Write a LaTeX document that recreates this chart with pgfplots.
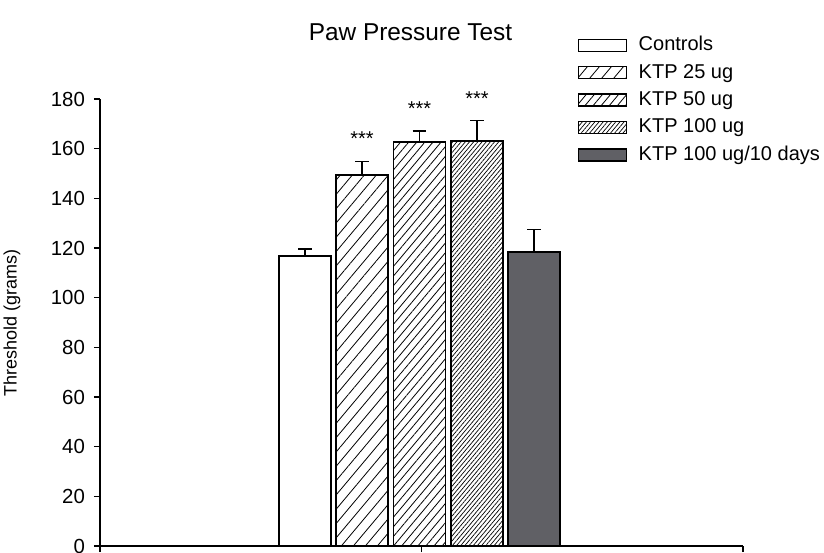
\documentclass[border=0pt]{standalone}
\usepackage{pgfplots}
\pgfplotsset{compat=1.18}
\usepackage{fontspec}
\setmainfont{Liberation Sans}
\usetikzlibrary{patterns.meta}
\definecolor{darkbar}{RGB}{96,96,101}
\begin{document}
\begin{tikzpicture}
\path[use as bounding box] (-50pt,-3pt) rectangle (362pt,273pt);
\begin{axis}[
  scale only axis, width=321.5pt, height=223.5pt,
  at={(0,0)}, anchor=south west,
  xmin=0, xmax=643, ymin=0, ymax=180,
  clip=false,
  axis x line*=bottom, axis y line*=left,
  axis line style={line width=0.6pt},
  xtick={0,321.5,643}, xticklabels={},
  ytick={0,20,...,180},
  tick align=outside, major tick length=3pt,
  tick style={line width=0.6pt, black},
  font=\fontsize{10}{12}\selectfont,
  /pgf/number format/assume math mode=true,
  yticklabel style={font=\fontsize{10.2}{12}\selectfont, xshift=-1pt},
  ylabel={Threshold (grams)},
  ylabel style={at={(axis description cs:-0.137,0.5)}, anchor=center, font=\fontsize{9}{11}\selectfont},
  title={Paw Pressure Test},
  title style={at={(axis description cs:0.5,1.123)}, anchor=center, yshift=0pt, xshift=-5.5pt, font=\fontsize{12.2}{14}\selectfont},
  legend style={draw=none, fill=none, at={(axis description cs:0.742,1.15)}, anchor=north west,
    font=\fontsize{10}{12}\selectfont, row sep=1.2pt, inner sep=0pt,
    /tikz/every even column/.append style={column sep=0pt}},
  legend cell align=left,
  legend image code/.code={\draw[#1, line width=0.6pt] (0pt,-3pt) rectangle (24pt,3pt);},
  legend style={nodes={inner xsep=6pt}},
  error bars/y dir=plus, error bars/y explicit,
  error bars/error bar style={line width=0.7pt, black},
  error bars/error mark options={rotate=90, mark size=3.4pt, line width=0.7pt, black},
]
\addplot[ybar, bar shift=0pt, bar width=52, draw=black, line width=0.8pt, fill=white]
  coordinates {(205,116.8) +- (0,2.8)};
\addlegendentry{Controls}
\addplot[ybar, bar shift=0pt, bar width=52, draw=black, line width=0.8pt, fill=white,
  postaction={pattern={Lines[angle=50, distance=4.6pt, line width=0.4pt]}}]
  coordinates {(262,149.3) +- (0,5.6)};
\addlegendentry{KTP 25 ug}
\addplot[ybar, bar shift=0pt, bar width=52, draw=black, line width=0.8pt, fill=white,
  postaction={pattern={Lines[angle=50, distance=3.1pt, line width=0.4pt]}}]
  coordinates {(319.5,162.7) +- (0,4.4)};
\addlegendentry{KTP 50 ug}
\addplot[ybar, bar shift=0pt, bar width=52, draw=black, line width=0.8pt, fill=white,
  postaction={pattern={Lines[angle=50, distance=1.6pt, line width=0.35pt]}}]
  coordinates {(377,163.0) +- (0,8.3)};
\addlegendentry{KTP 100 ug}
\addplot[ybar, bar shift=0pt, bar width=52, draw=black, line width=0.8pt, fill=darkbar]
  coordinates {(434,118.4) +- (0,9.1)};
\addlegendentry{KTP 100 ug/10 days}
\addplot[forget plot, draw=none, mark=none, nodes near coords, point meta=explicit symbolic,
  nodes near coords style={anchor=center, font=\fontsize{10}{12}\selectfont}]
  coordinates {(262,164.2) [***] (319.5,176.0) [***] (377,180.3) [***]};
\end{axis}
\end{tikzpicture}
\end{document}
